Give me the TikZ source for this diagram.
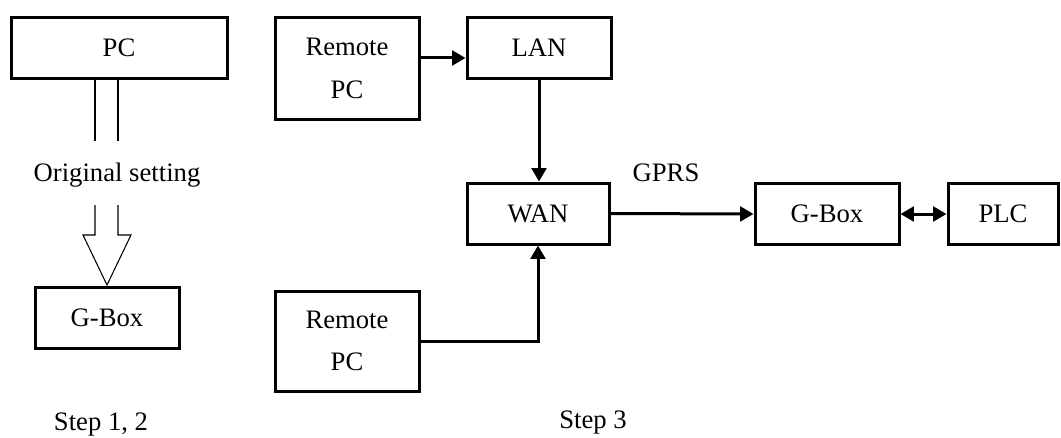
\documentclass[tikz,border=0pt]{standalone}
\usepackage{fontspec}
\setmainfont{Liberation Serif}
\usetikzlibrary{positioning,arrows.meta}

\begin{document}
\begin{tikzpicture}[
x=0.75pt, y=-0.75pt,
every node/.style={
    inner sep=2pt,
    align=center,
    font=\fontsize{20}{32}\selectfont
},
box/.style={
    draw,
    line width=2.25pt,
    minimum width=108pt,
    minimum height=45.75pt
},
link/.style={->, line width=2.25pt},
hollow/.style={line width=0.8pt},
>={Triangle[length=10pt,width=11pt]}
]
\useasboundingbox (0,0) rectangle (1061,437);

% step 1, 2
\node[box, minimum width=162pt] (pcA) at (119,47.5) {PC};
\node (orig) at (117,175) {Original setting};
\node[box] (gboxA) at (107,318) {G-Box};
\node (stepA) at (101,425) {Step 1, 2};

% step 3
\node[box, minimum height=76.5pt] (rpcA) at (347,68.5) {Remote\\PC};
\node[box] (lan) at (539,47.5) {LAN};
\node[box, minimum width=106.5pt] (wan) at (538,213.5) {WAN};
\node[box, minimum height=75pt] (rpcB) at (347,341) {Remote\\PC};
\node[box] (gboxB) at (827,214) {G-Box};
\node[box, minimum width=82.5pt] (plc) at (1003,214) {PLC};
\node (gprs) at (666,173) {GPRS};
\node (stepB) at (593,423) {Step 3};

% hollow arrow
\draw[hollow] (pcA.south) ++(-24,0) -- ++(0,61)
    (pcA.south) ++(-1,0) -- ++(0,61);
\draw[hollow] (gboxA.north) ++(-12,-81) -- ++(0,30) -- ++(-12,0)
    -- ++(24,50) -- ++(24,-50) -- ++(-13,0) -- ++(0,-30);

% links
\coordinate (rl) at ([yshift=7.9pt]rpcA.east);
\draw[link] (rl) -- (rl -| lan.west);
\draw[link] (lan.south) -- (lan.south |- wan.north);
\draw[link] (rpcB.east) -| (wan.south);
\draw[link] (wan.east) -- (gboxB.west);
\draw[link, <->] (gboxB.east) -- (plc.west);

\end{tikzpicture}
\end{document}
